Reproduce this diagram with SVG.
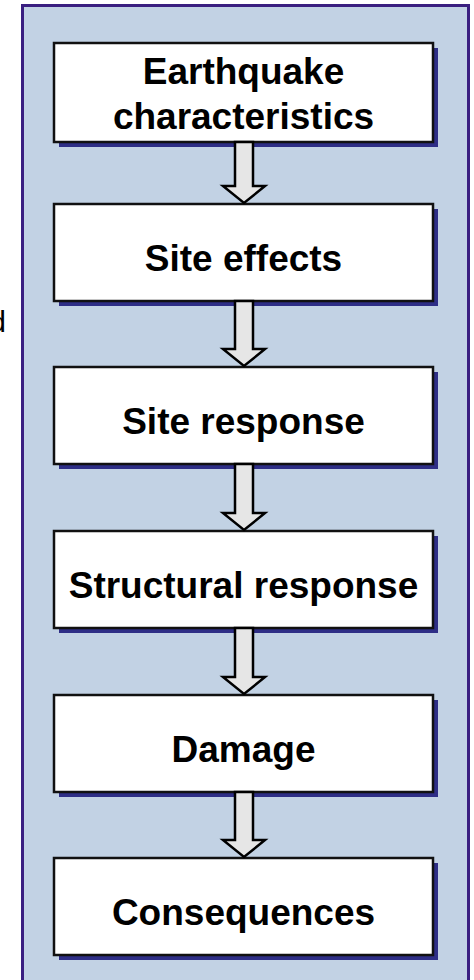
<svg xmlns="http://www.w3.org/2000/svg" width="474" height="980" viewBox="0 0 474 980">
  <defs>
    <style>
      .panel { fill: #c2d2e4; stroke: #3a1f80; stroke-width: 3; }
      .shadow { fill: #2e2e86; }
      .box { fill: #ffffff; stroke: #111111; stroke-width: 2.5; }
      .lbl { font-family: "Liberation Sans", Arial, sans-serif; font-weight: bold; font-size: 37px; fill: #000; text-anchor: middle; }
      .arrow { fill: #e6e6e6; stroke: #000000; stroke-width: 2.5; stroke-linejoin: miter; }
      .side { font-family: "Liberation Sans", Arial, sans-serif; font-size: 30px; fill: #000; text-anchor: end; }
    </style>
  </defs>
  <rect x="0" y="0" width="474" height="980" fill="#ffffff"/>
  <rect class="panel" x="22.5" y="5.5" width="446" height="990"/>
  <text class="side" x="6" y="332">d</text>

  <g id="n1">
    <rect class="shadow" x="59" y="48" width="379" height="99"/>
    <rect class="box" x="54" y="43" width="379" height="99"/>
    <text class="lbl" x="243.5" y="84">Earthquake</text>
    <text class="lbl" x="243.5" y="129">characteristics</text>
  </g>
  <g id="n2">
    <rect class="shadow" x="59" y="209" width="379" height="97"/>
    <rect class="box" x="54" y="204" width="379" height="97"/>
    <text class="lbl" x="243.5" y="271">Site effects</text>
  </g>
  <g id="n3">
    <rect class="shadow" x="59" y="372" width="379" height="97"/>
    <rect class="box" x="54" y="367" width="379" height="97"/>
    <text class="lbl" x="243.5" y="434">Site response</text>
  </g>
  <g id="n4">
    <rect class="shadow" x="59" y="536" width="379" height="97"/>
    <rect class="box" x="54" y="531" width="379" height="97"/>
    <text class="lbl" x="243.5" y="598">Structural response</text>
  </g>
  <g id="n5">
    <rect class="shadow" x="59" y="700" width="379" height="97"/>
    <rect class="box" x="54" y="695" width="379" height="97"/>
    <text class="lbl" x="243.5" y="762">Damage</text>
  </g>
  <g id="n6">
    <rect class="shadow" x="59" y="863" width="379" height="97"/>
    <rect class="box" x="54" y="858" width="379" height="97"/>
    <text class="lbl" x="243.5" y="925">Consequences</text>
  </g>

  <g id="connectors">
    <path class="arrow" d="M235,142 L253,142 L253,186 L265,186 L244,203 L223,186 L235,186 Z"/>
    <path class="arrow" d="M235,301 L253,301 L253,349 L265,349 L244,366 L223,349 L235,349 Z"/>
    <path class="arrow" d="M235,464 L253,464 L253,513 L265,513 L244,530 L223,513 L235,513 Z"/>
    <path class="arrow" d="M235,628 L253,628 L253,677 L265,677 L244,694 L223,677 L235,677 Z"/>
    <path class="arrow" d="M235,792 L253,792 L253,840 L265,840 L244,857 L223,840 L235,840 Z"/>
  </g>
</svg>
